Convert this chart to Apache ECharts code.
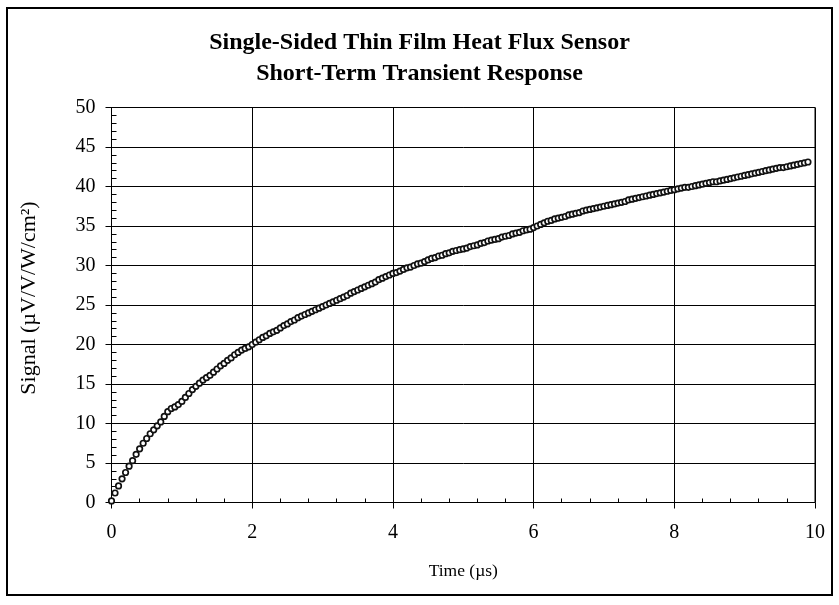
<!DOCTYPE html>
<html>
<head>
<meta charset="utf-8">
<script src="https://cdn.jsdelivr.net/npm/echarts@6/dist/echarts.min.js"></script>
<style>
html,body{margin:0;padding:0;background:#fff;}
#frame{position:absolute;left:6px;top:7px;width:823px;height:585px;border:2px solid #000;}
#chart{position:absolute;left:0;top:0;width:839px;height:605px;}
</style>
</head>
<body>
<div id="frame"></div>
<div id="chart"></div>
<script>
var titleLines = ['Single-Sided Thin Film Heat Flux Sensor', 'Short-Term Transient Response'];
var xAxisName = 'Time (µs)';
var yAxisName = 'Signal (µV/V/W/cm²)';
var xTicks = [0, 2, 4, 6, 8, 10];
var yTicks = [0, 5, 10, 15, 20, 25, 30, 35, 40, 45, 50];

var timeUs = [
0.00,0.05,0.10,0.15,0.20,0.25,0.30,0.35,0.40,0.45,0.50,0.55,0.60,0.65,0.70,0.75,0.80,0.85,0.90,0.95,
1.00,1.05,1.10,1.15,1.20,1.25,1.30,1.35,1.40,1.45,1.50,1.55,1.60,1.65,1.70,1.75,1.80,1.85,1.90,1.95,
2.00,2.05,2.10,2.15,2.20,2.25,2.30,2.35,2.40,2.45,2.50,2.55,2.60,2.65,2.70,2.75,2.80,2.85,2.90,2.95,
3.00,3.05,3.10,3.15,3.20,3.25,3.30,3.35,3.40,3.45,3.50,3.55,3.60,3.65,3.70,3.75,3.80,3.85,3.90,3.95,
4.00,4.05,4.10,4.15,4.20,4.25,4.30,4.35,4.40,4.45,4.50,4.55,4.60,4.65,4.70,4.75,4.80,4.85,4.90,4.95,
5.00,5.05,5.10,5.15,5.20,5.25,5.30,5.35,5.40,5.45,5.50,5.55,5.60,5.65,5.70,5.75,5.80,5.85,5.90,5.95,
6.00,6.05,6.10,6.15,6.20,6.25,6.30,6.35,6.40,6.45,6.50,6.55,6.60,6.65,6.70,6.75,6.80,6.85,6.90,6.95,
7.00,7.05,7.10,7.15,7.20,7.25,7.30,7.35,7.40,7.45,7.50,7.55,7.60,7.65,7.70,7.75,7.80,7.85,7.90,7.95,
8.00,8.05,8.10,8.15,8.20,8.25,8.30,8.35,8.40,8.45,8.50,8.55,8.60,8.65,8.70,8.75,8.80,8.85,8.90,8.95,
9.00,9.05,9.10,9.15,9.20,9.25,9.30,9.35,9.40,9.45,9.50,9.55,9.60,9.65,9.70,9.75,9.80,9.85,9.90
];
var signal = [
0.2,1.2,2.1,3.0,3.8,4.6,5.3,6.1,6.8,7.5,8.1,8.7,9.2,9.7,10.2,10.9,11.5,11.9,12.1,12.4,
12.8,13.3,13.8,14.3,14.7,15.1,15.5,15.8,16.1,16.5,16.9,17.3,17.6,18.0,18.3,18.7,19.0,19.3,19.5,19.7,
20.0,20.3,20.6,20.9,21.1,21.4,21.6,21.8,22.1,22.4,22.6,22.9,23.1,23.4,23.6,23.8,24.0,24.2,24.4,24.6,
24.8,25.0,25.2,25.4,25.6,25.8,26.0,26.2,26.5,26.7,26.9,27.1,27.3,27.5,27.7,27.9,28.2,28.4,28.6,28.8,
29.0,29.1,29.3,29.5,29.7,29.8,30.0,30.2,30.3,30.5,30.7,30.9,31.0,31.2,31.3,31.5,31.6,31.8,31.9,32.0,
32.1,32.2,32.4,32.5,32.6,32.8,32.9,33.1,33.2,33.3,33.4,33.6,33.7,33.8,34.0,34.1,34.2,34.4,34.5,34.6,
34.8,35.0,35.2,35.4,35.6,35.7,35.9,36.0,36.1,36.2,36.4,36.5,36.6,36.7,36.9,37.0,37.1,37.2,37.3,37.4,
37.5,37.6,37.7,37.8,37.9,38.0,38.1,38.3,38.4,38.5,38.6,38.7,38.8,38.9,39.0,39.1,39.2,39.3,39.4,39.5,
39.6,39.7,39.8,39.9,39.9,40.0,40.1,40.2,40.3,40.4,40.5,40.6,40.6,40.7,40.8,40.9,41.0,41.1,41.2,41.3,
41.4,41.5,41.6,41.7,41.8,41.9,42.0,42.1,42.2,42.3,42.4,42.4,42.5,42.6,42.7,42.8,42.9,43.0,43.1
];

var FONT = '"Liberation Serif", "Times New Roman", serif';
var points = timeUs.map(function (t, i) { return [t, signal[i]]; });
var gridBox = {left: 111.5, top: 107.5, right: 24, bottom: 102.5};
var xMin = xTicks[0], xMax = xTicks[xTicks.length - 1];
var yMin = yTicks[0], yMax = yTicks[yTicks.length - 1];

var chart = echarts.init(document.getElementById('chart'), null, {renderer: 'canvas'});
chart.setOption({
  animation: false,
  backgroundColor: 'transparent',
  title: {
    text: titleLines.join('\n'),
    left: 'center',
    top: 22,
    textStyle: {fontFamily: FONT, fontWeight: 'bold', fontSize: 24, lineHeight: 31, color: '#000'}
  },
  grid: [
    Object.assign({show: true, borderColor: '#000', borderWidth: 1}, gridBox),
    Object.assign({show: false}, gridBox)
  ],
  xAxis: [{
    gridIndex: 0, type: 'value', min: xMin, max: xMax, interval: 2,
    name: xAxisName, nameLocation: 'middle', nameGap: 60,
    nameTextStyle: {fontFamily: FONT, fontSize: 17.5, color: '#000'},
    axisLine: {onZero: false, lineStyle: {color: '#000', width: 1}},
    axisTick: {show: true, inside: false, length: 6, lineStyle: {color: '#000'}},
    minorTick: {show: false},
    axisLabel: {fontFamily: FONT, fontSize: 20, color: '#000', margin: 20},
    splitLine: {show: true, lineStyle: {color: '#000', width: 1}}
  }, {
    gridIndex: 1, type: 'value', min: xMin, max: xMax, interval: 2, position: 'bottom',
    axisLine: {show: false, onZero: false},
    axisTick: {show: true, inside: true, length: 0, lineStyle: {color: '#000'}},
    minorTick: {show: true, splitNumber: 5, length: 4, lineStyle: {color: '#000'}},
    axisLabel: {show: false},
    splitLine: {show: false}
  }],
  yAxis: [{
    gridIndex: 0, type: 'value', min: yMin, max: yMax, interval: 5,
    name: yAxisName, nameLocation: 'middle', nameGap: 71,
    nameTextStyle: {fontFamily: FONT, fontSize: 22, color: '#000', padding: [0, 0, 0, 14]},
    axisLine: {show: true, onZero: false, lineStyle: {color: '#000', width: 1}},
    axisTick: {show: true, inside: false, length: 6, lineStyle: {color: '#000'}},
    minorTick: {show: false},
    axisLabel: {fontFamily: FONT, fontSize: 20, color: '#000', margin: 16},
    splitLine: {show: true, lineStyle: {color: '#000', width: 1}}
  }, {
    gridIndex: 1, type: 'value', min: yMin, max: yMax, interval: 5, position: 'left',
    axisLine: {show: false, onZero: false},
    axisTick: {show: true, inside: true, length: 0, lineStyle: {color: '#000'}},
    minorTick: {show: true, splitNumber: 5, length: 5, lineStyle: {color: '#000'}},
    axisLabel: {show: false},
    splitLine: {show: false}
  }],
  series: [{
    type: 'scatter',
    xAxisIndex: 0, yAxisIndex: 0,
    data: points,
    symbol: 'circle',
    symbolSize: 5.5,
    itemStyle: {color: '#fff', borderColor: '#111', borderWidth: 1.7, opacity: 1},
    emphasis: {disabled: true}
  }]
});
</script>
</body>
</html>
